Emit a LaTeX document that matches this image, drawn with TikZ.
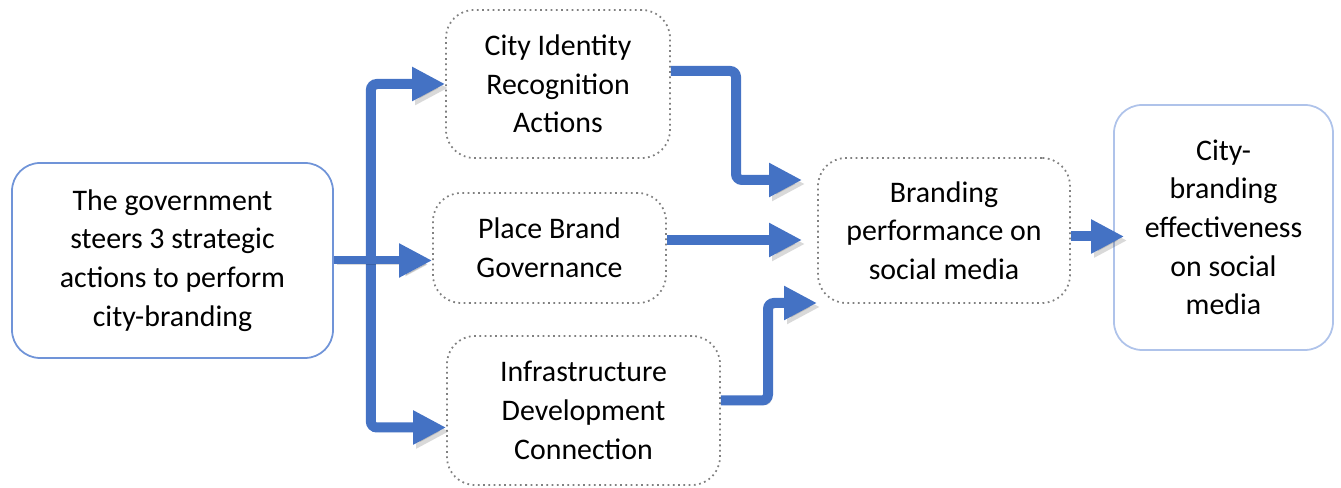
\documentclass[tikz,border=0pt]{standalone}
\usepackage{fontspec}
\setmainfont{Carlito}
\usepackage{tikz}
\usetikzlibrary{arrows.meta}

\definecolor{flowblue}{HTML}{4472C4}
\definecolor{edgeblue}{HTML}{7094D8}
\definecolor{paleblue}{HTML}{AFC3EA}

\tikzset{
  box/.style={rounded corners=0.28cm, align=center, inner sep=0pt,
    font=\fontsize{8.5pt}{11pt}\selectfont},
  solidbox/.style={box, draw=edgeblue, line width=0.5pt},
  dotbox/.style={box, draw=gray, densely dotted, line width=0.5pt},
  flow/.style={draw=flowblue, line width=0.1cm, rounded corners=0.06cm,
    -{Triangle[length=0.33cm, width=0.32cm]},
    preaction={draw=black, opacity=0.15, transform canvas={shift={(0.03cm,-0.04cm)}}}},
}

\begin{document}
\begin{tikzpicture}
  \useasboundingbox (0,0) rectangle (13.41,4.88);
  % boxes
  \node[solidbox, minimum width=3.21cm, minimum height=1.95cm] (gov) at (1.725,2.275)
    {The government\\ steers 3 strategic\\ actions to perform\\ city-branding};
  \node[dotbox, minimum width=2.24cm, minimum height=1.48cm] (cir) at (5.58,4.04)
    {City Identity\\ Recognition\\ Actions};
  \node[dotbox, minimum width=2.33cm, minimum height=1.10cm] (pbg) at (5.495,2.40)
    {Place Brand\\ Governance};
  \node[dotbox, minimum width=2.73cm, minimum height=1.49cm] (idc) at (5.835,0.775)
    {Infrastructure\\ Development\\ Connection};
  \node[dotbox, minimum width=2.52cm, minimum height=1.45cm] (bp) at (9.44,2.575)
    {Branding\\ performance on\\ social media};
  \node[solidbox, draw=paleblue, minimum width=2.19cm, minimum height=2.45cm] (cbe) at (12.235,2.605)
    {City-\\ branding\\ effectiveness\\ on social\\ media};

  % branching arrows
  \coordinate (fork) at ([xshift=0.37cm]gov.east);
  \draw[flow] (fork) |- (cir.west);
  \draw[flow] (fork) |- ([yshift=-0.17cm]idc.west);
  \draw[flow, line width=0.08cm] (gov.east) -- (gov.east -| pbg.west);

  % into the performance box
  \coordinate (inA) at (8.02,3.08);
  \coordinate (inB) at (8.02,2.48);
  \coordinate (inC) at (8.17,1.85);
  \draw[flow] ([yshift=0.13cm]cir.east) -| ([xshift=-0.66cm]inA) -- (inA);
  \draw[flow] ([yshift=0.08cm]pbg.east) -- (inB);
  \draw[flow] ([yshift=0.1cm]idc.east) -| ([xshift=-0.49cm]inC) -- (inC);
  \draw[flow] ([yshift=-0.06cm]bp.east) -- ([xshift=0.11cm,yshift=-0.09cm]cbe.west);
\end{tikzpicture}
\end{document}
